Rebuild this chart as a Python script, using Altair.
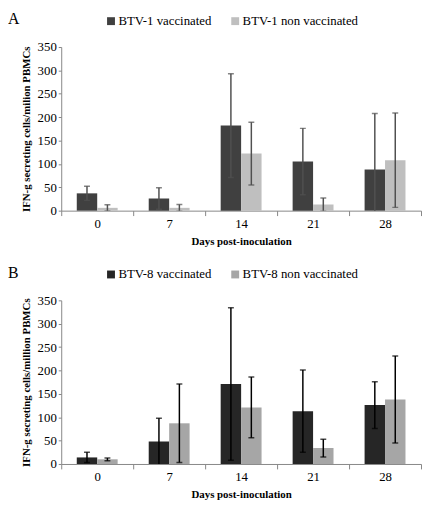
import altair as alt
import pandas as pd

days = ["0", "7", "14", "21", "28"]

a_label = "A"
a_series = ["BTV-1 vaccinated", "BTV-1 non vaccinated"]
a_vacc = [37, 26, 182, 105, 88]
a_vacc_err = [15, 23, 111, 71, 120]
a_non = [6, 6, 122, 13, 108]
a_non_err = [6.5, 7, 67, 14, 101]
a_colors = ["#404040", "#bfbfbf"]
a_ytitle = "IFN-g secreting cells/milion PBMCs"

b_label = "B"
b_series = ["BTV-8 vaccinated", "BTV-8 non vaccinated"]
b_vacc = [14, 48, 171, 113, 126]
b_vacc_err = [11, 50, 163, 88, 50]
b_non = [10, 87, 121, 34, 138]
b_non_err = [3, 84, 65, 19, 93]
b_colors = ["#262626", "#a6a6a6"]
b_ytitle = "IFN-g secreting cells/million PBMCs"

xtitle = "Days post-inoculation"
y_ticks = [0, 50, 100, 150, 200, 250, 300, 350]

FONT = "Liberation Serif"


def panel(label, series, vals1, errs1, vals2, errs2, colors, err_color, ytitle):
    rows = []
    for s, vals, errs in ((series[0], vals1, errs1), (series[1], vals2, errs2)):
        for d, v, e in zip(days, vals, errs):
            rows.append({"day": d, "series": s, "mean": v, "lo": v - e, "hi": v + e})
    df = pd.DataFrame(rows)

    xaxis = alt.Axis(title=xtitle, labelAngle=0, tickBand="extent", tickSize=5,
                     labelPadding=2, titlePadding=5, domainColor="#868686",
                     tickColor="#868686", labelFontSize=13, titleFontSize=11,
                     titleFontWeight="bold", labelColor="black", titleColor="black")
    xscale = alt.Scale(paddingInner=0, paddingOuter=0)
    x = alt.X("day:N", sort=days, scale=xscale, axis=xaxis)
    xo = alt.XOffset("series:N", sort=series,
                     scale=alt.Scale(domain=series, paddingInner=0, paddingOuter=0.76))
    yscale = alt.Scale(domain=[0, 350], nice=False)
    yaxis = alt.Axis(title=ytitle, values=y_ticks, grid=False, tickSize=3,
                     labelPadding=2, titlePadding=6, domainColor="#868686",
                     tickColor="#868686", labelFontSize=13, titleFontSize=11,
                     titleFontWeight="bold", labelColor="black", titleColor="black",
                     labelOverlap=False)

    def yenc(field):
        return alt.Y(field + ":Q", scale=yscale, axis=yaxis)

    base = alt.Chart(df)
    bars = base.mark_bar().encode(
        x=x, xOffset=xo, y=yenc("mean"),
        color=alt.Color("series:N", sort=series,
                        scale=alt.Scale(domain=series, range=colors),
                        legend=alt.Legend(title=None, orient="none", direction="horizontal",
                                          legendX=44, legendY=-33, symbolType="square",
                                          symbolSize=64, symbolStrokeWidth=0,
                                          labelFontSize=13,
                                          labelColor="black", columnPadding=17,
                                          labelOffset=1)),
    )
    rule = base.mark_rule(color=err_color, strokeWidth=1.5, clip=True).encode(
        x=x, xOffset=xo, y=yenc("lo"), y2="hi:Q")
    cap_lo = base.mark_tick(color=err_color, size=6, thickness=1.5, orient="horizontal",
                            clip=True).encode(x=x, xOffset=xo, y=yenc("lo"))
    cap_hi = base.mark_tick(color=err_color, size=6, thickness=1.5, orient="horizontal",
                            clip=True).encode(x=x, xOffset=xo, y=yenc("hi"))
    lab = alt.Chart(pd.DataFrame({"t": [label]})).mark_text(
        fontSize=16, align="left", baseline="top", color="black"
    ).encode(text="t:N", x=alt.value(-54), y=alt.value(-36))

    return alt.layer(bars, rule, cap_lo, cap_hi, lab).properties(width=365, height=166)


pa = panel(a_label, a_series, a_vacc, a_vacc_err, a_non, a_non_err, a_colors, "#505050", a_ytitle)
pb = panel(b_label, b_series, b_vacc, b_vacc_err, b_non, b_non_err, b_colors, "#000000", b_ytitle)

chart = alt.vconcat(pa, pb, spacing=19).resolve_scale(
    color="independent", xOffset="independent"
).properties(padding=0).configure(font=FONT).configure_view(stroke=None).configure_axis(
    labelFont=FONT, titleFont=FONT
).configure_legend(labelFont=FONT, labelFontSize=13).configure_text(font=FONT)

chart.save("out.html", embed_options={"renderer": "svg", "actions": False})
